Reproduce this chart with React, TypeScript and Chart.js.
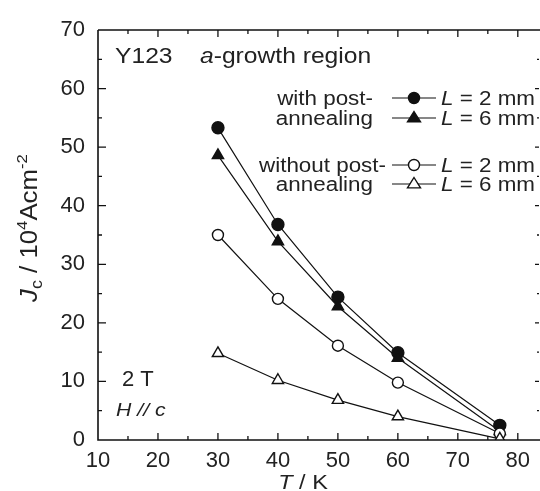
import React, { useEffect, useRef } from 'react';
import { Chart, registerables } from 'chart.js';

Chart.register(...registerables);

const temperatures = [30, 40, 50, 60, 77];
const withPost2mm = [53.3, 36.8, 24.4, 14.9, 2.5];
const withPost6mm = [48.6, 33.9, 22.8, 14.0, 1.5];
const withoutPost2mm = [35.0, 24.1, 16.1, 9.8, 1.1];
const withoutPost6mm = [14.8, 10.2, 6.8, 4.0, 0.2];

const xTickValues = [10, 20, 30, 40, 50, 60, 70, 80];
const yTickValues = [0, 10, 20, 30, 40, 50, 60, 70];

const seriesLabels = ['with post-annealing L = 2 mm', 'with post-annealing L = 6 mm', 'without post-annealing L = 2 mm', 'without post-annealing L = 6 mm'];
const legendValues = ['2 mm', '6 mm', '2 mm', '6 mm'];

const FONT = '"Liberation Sans", Arial, sans-serif';
const SX = 1.12;

type Seg = { t: string; font: string; dy?: number };

function drawRich(ctx: CanvasRenderingContext2D, segs: Seg[], x: number, y: number, align: 'left' | 'center' | 'right', sx = SX) {
  let total = 0;
  const widths = segs.map((s) => {
    ctx.font = s.font;
    const w = ctx.measureText(s.t).width;
    total += w;
    return w;
  });
  ctx.save();
  ctx.translate(x, y);
  ctx.scale(sx, 1);
  let cx = align === 'left' ? 0 : align === 'center' ? -total / 2 : -total;
  ctx.textAlign = 'left';
  ctx.textBaseline = 'alphabetic';
  segs.forEach((s, i) => {
    ctx.font = s.font;
    ctx.fillText(s.t, cx, s.dy || 0);
    cx += widths[i];
  });
  ctx.restore();
}

function drawMarker(ctx: CanvasRenderingContext2D, style: string, x: number, y: number, r: number) {
  ctx.beginPath();
  if (style === 'circle') {
    ctx.arc(x, y, r, 0, Math.PI * 2);
  } else {
    ctx.moveTo(x, y - r);
    ctx.lineTo(x + r, y + r * 0.6);
    ctx.lineTo(x - r, y + r * 0.6);
    ctx.closePath();
  }
  ctx.fill();
  ctx.stroke();
}

const decorPlugin = {
  id: 'decor',
  afterDraw(chart: any) {
    const ctx: CanvasRenderingContext2D = chart.ctx;
    const { left, right, top, bottom } = chart.chartArea;
    const xs = chart.scales.x;
    const ys = chart.scales.y;
    ctx.save();
    ctx.strokeStyle = '#111';
    ctx.fillStyle = '#111';
    ctx.lineWidth = 1.6;
    ctx.beginPath();
    ctx.moveTo(left, top);
    ctx.lineTo(right, top);
    ctx.moveTo(left, top);
    ctx.lineTo(left, bottom);
    ctx.lineTo(right, bottom);
    ctx.stroke();
    ctx.lineWidth = 1.3;
    for (let v = 15; v <= 80; v += 5) {
      const px = xs.getPixelForValue(v);
      const len = v % 10 === 0 ? 7 : 4;
      ctx.beginPath();
      ctx.moveTo(px, bottom);
      ctx.lineTo(px, bottom - len);
      ctx.moveTo(px, top);
      ctx.lineTo(px, top + len);
      ctx.stroke();
    }
    const rx = Math.min(right, chart.width) - 1;
    for (let v = 5; v < 70; v += 5) {
      const py = ys.getPixelForValue(v);
      const len = v % 10 === 0 ? 8 : 4;
      ctx.beginPath();
      ctx.moveTo(left, py);
      ctx.lineTo(left + len, py);
      ctx.moveTo(rx, py);
      ctx.lineTo(rx - len / 2, py);
      ctx.stroke();
    }

    ctx.fillStyle = '#222';
    drawRich(ctx, [{ t: 'Y123', font: `22px ${FONT}` }], 115, 63, 'left');
    drawRich(ctx, [
      { t: 'a', font: `italic 22px ${FONT}` },
      { t: '-growth region', font: `22px ${FONT}` },
    ], 200, 63, 'left');
    drawRich(ctx, [{ t: '2 T', font: `22px ${FONT}` }], 122, 386, 'left', 1.0);
    drawRich(ctx, [{ t: 'H // c', font: `italic 19px ${FONT}` }], 116, 416, 'left');

    const rows = [98, 118, 165, 184];
    const styles = [
      { style: 'circle', fill: '#111' },
      { style: 'triangle', fill: '#111' },
      { style: 'circle', fill: '#fff' },
      { style: 'triangle', fill: '#fff' },
    ];
    drawRich(ctx, [{ t: 'with post-', font: `20px ${FONT}` }], 373, 105, 'right');
    drawRich(ctx, [{ t: 'annealing', font: `20px ${FONT}` }], 373, 125, 'right');
    drawRich(ctx, [{ t: 'without post-', font: `20px ${FONT}` }], 386, 172, 'right');
    drawRich(ctx, [{ t: 'annealing', font: `20px ${FONT}` }], 373, 191, 'right');
    rows.forEach((ry, i) => {
      ctx.strokeStyle = '#111';
      ctx.lineWidth = 1.2;
      ctx.beginPath();
      ctx.moveTo(392, ry);
      ctx.lineTo(436, ry);
      ctx.stroke();
      ctx.fillStyle = styles[i].fill;
      ctx.lineWidth = 1.4;
      drawMarker(ctx, styles[i].style, 414, ry, styles[i].style === 'circle' ? 5.5 : 6.5);
      ctx.fillStyle = '#222';
      drawRich(ctx, [
        { t: 'L', font: `italic 20px ${FONT}` },
        { t: ' = ' + legendValues[i], font: `20px ${FONT}` },
      ], 441, ry + 7, 'left');
    });

    drawRich(ctx, [
      { t: 'T', font: `italic 21px ${FONT}` },
      { t: ' / K', font: `21px ${FONT}` },
    ], 303, 489, 'center');

    ctx.save();
    ctx.translate(37, 228);
    ctx.rotate(-Math.PI / 2);
    drawRich(ctx, [
      { t: 'J', font: `italic 23px ${FONT}` },
      { t: 'c', font: `16px ${FONT}`, dy: 5 },
      { t: ' / 10', font: `23px ${FONT}` },
      { t: '4', font: `15px ${FONT}`, dy: -10 },
      { t: 'Acm', font: `23px ${FONT}` },
      { t: '-2', font: `15px ${FONT}`, dy: -10 },
    ], 0, 0, 'center');
    ctx.restore();
    ctx.restore();
  },
};

export default function App() {
  const ref = useRef<HTMLCanvasElement>(null);
  useEffect(() => {
    document.body.style.margin = '0';
    const canvas = ref.current!;
    const mk = (data: number[], label: string, style: string, fill: string, r: number) => ({
      label,
      data: temperatures.map((t, i) => ({ x: t, y: data[i] })),
      borderColor: '#111',
      borderWidth: 1.2,
      pointStyle: style,
      pointRadius: r,
      pointBackgroundColor: fill,
      pointBorderColor: '#111',
      pointBorderWidth: 1.4,
      showLine: true,
      fill: false,
      tension: 0,
    });
    const chart = new Chart(canvas, {
      type: 'scatter',
      data: {
        datasets: [
          mk(withoutPost6mm, seriesLabels[3], 'triangle', '#fff', 6.5),
          mk(withoutPost2mm, seriesLabels[2], 'circle', '#fff', 5.5),
          mk(withPost6mm, seriesLabels[1], 'triangle', '#111', 6.5),
          mk(withPost2mm, seriesLabels[0], 'circle', '#111', 6),
        ],
      },
      options: {
        animation: false,
        responsive: false,
        devicePixelRatio: 1,
        layout: { padding: { top: 30, left: 0, right: 0, bottom: 0 } },
        plugins: { legend: { display: false }, tooltip: { enabled: false } },
        scales: {
          x: {
            type: 'linear',
            min: 10,
            max: 83.7,
            grid: { display: false },
            border: { display: false },
            afterBuildTicks: (s: any) => {
              s.ticks = xTickValues.map((v) => ({ value: v }));
            },
            afterFit: (s: any) => {
              s.height = 51;
              s.paddingLeft = 0;
              s.paddingRight = 0;
            },
            afterUpdate: (s: any) => {
              s.paddingLeft = 0;
              s.paddingRight = 0;
            },
            ticks: {
              color: '#222',
              font: { family: FONT, size: 22 },
              padding: 0,
              maxRotation: 0,
              autoSkip: false,
            },
          },
          y: {
            type: 'linear',
            min: 0,
            max: 70,
            grid: { display: false },
            border: { display: false },
            afterBuildTicks: (s: any) => {
              s.ticks = yTickValues.map((v) => ({ value: v }));
            },
            afterFit: (s: any) => {
              s.width = 98;
              s.paddingTop = 0;
              s.paddingBottom = 0;
            },
            ticks: {
              color: '#222',
              font: { family: FONT, size: 22 },
              padding: 5,
            },
          },
        },
      },
      plugins: [
        decorPlugin,
        {
          id: 'fixArea',
          afterLayout(chart: any) {
            const ca = chart.chartArea;
            const xs = chart.scales.x;
            const ys = chart.scales.y;
            ca.left = 98;
            ca.right = 540;
            ca.top = 30;
            ca.bottom = 440;
            ca.width = ca.right - ca.left;
            ca.height = ca.bottom - ca.top;
            xs.left = 98;
            xs.right = 540;
            xs.width = 442;
            xs.top = 440;
            xs.bottom = 491;
            xs.configure();
            ys.left = 0;
            ys.right = 98;
            ys.top = 30;
            ys.bottom = 440;
            ys.height = 410;
            ys.configure();
          },
        },
      ],
    } as any);
    return () => chart.destroy();
  }, []);
  return <canvas ref={ref} width={540} height={491} style={{ display: 'block' }} />;
}
